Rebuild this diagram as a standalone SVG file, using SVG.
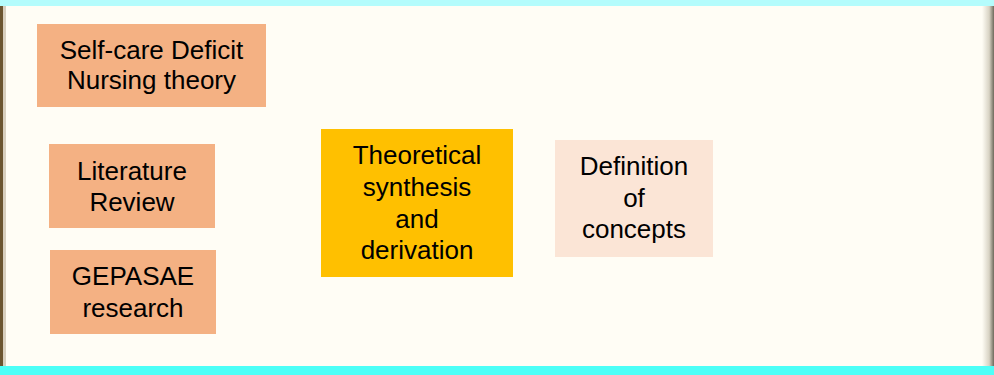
<svg xmlns="http://www.w3.org/2000/svg" width="994" height="375" viewBox="0 0 994 375">
<style>
.t{font-family:"Liberation Sans",Arial,sans-serif;font-size:26px;fill:#000;text-anchor:middle}
.or{fill:#F4B183}
</style>
<defs>
<linearGradient id="rg" x1="0" x2="1" y1="0" y2="0">
<stop offset="0" stop-color="#FFFDF5"/>
<stop offset="0.6" stop-color="#D8D3C4"/>
<stop offset="1" stop-color="#6E695C"/>
</linearGradient>
</defs>
<rect x="0" y="0" width="994" height="375" fill="#FFFDF5"/>
<rect x="0" y="0" width="994" height="6" fill="#B4FCFC"/>
<rect x="0" y="366" width="994" height="9" fill="#4DFFF7"/>
<rect x="0" y="6" width="3" height="360" fill="#6B5530"/>
<rect x="3" y="6" width="3" height="360" fill="#D8CFBE"/>
<rect x="982" y="6" width="12" height="360" fill="url(#rg)"/>
<g id="selfcare">
<rect class="or" x="37" y="24" width="229" height="83"/>
<text class="t" x="151.5" y="59">Self-care Deficit</text>
<text class="t" x="151.5" y="89">Nursing theory</text>
</g>
<g id="literature">
<rect class="or" x="49" y="144" width="166" height="84"/>
<text class="t" x="132" y="180">Literature</text>
<text class="t" x="132" y="211">Review</text>
</g>
<g id="gepasae">
<rect class="or" x="50" y="250" width="166" height="84"/>
<text class="t" x="133" y="285">GEPASAE</text>
<text class="t" x="133" y="317">research</text>
</g>
<g id="synthesis">
<rect x="321" y="129" width="192" height="148" fill="#FFC000"/>
<text class="t" x="417" y="164">Theoretical</text>
<text class="t" x="417" y="196">synthesis</text>
<text class="t" x="417" y="228">and</text>
<text class="t" x="417" y="259">derivation</text>
</g>
<g id="definition">
<rect x="555" y="140" width="158" height="117" fill="#FBE5D6"/>
<text class="t" x="634" y="175">Definition</text>
<text class="t" x="634" y="207">of</text>
<text class="t" x="634" y="238">concepts</text>
</g>
<g id="connectors"></g>
</svg>
